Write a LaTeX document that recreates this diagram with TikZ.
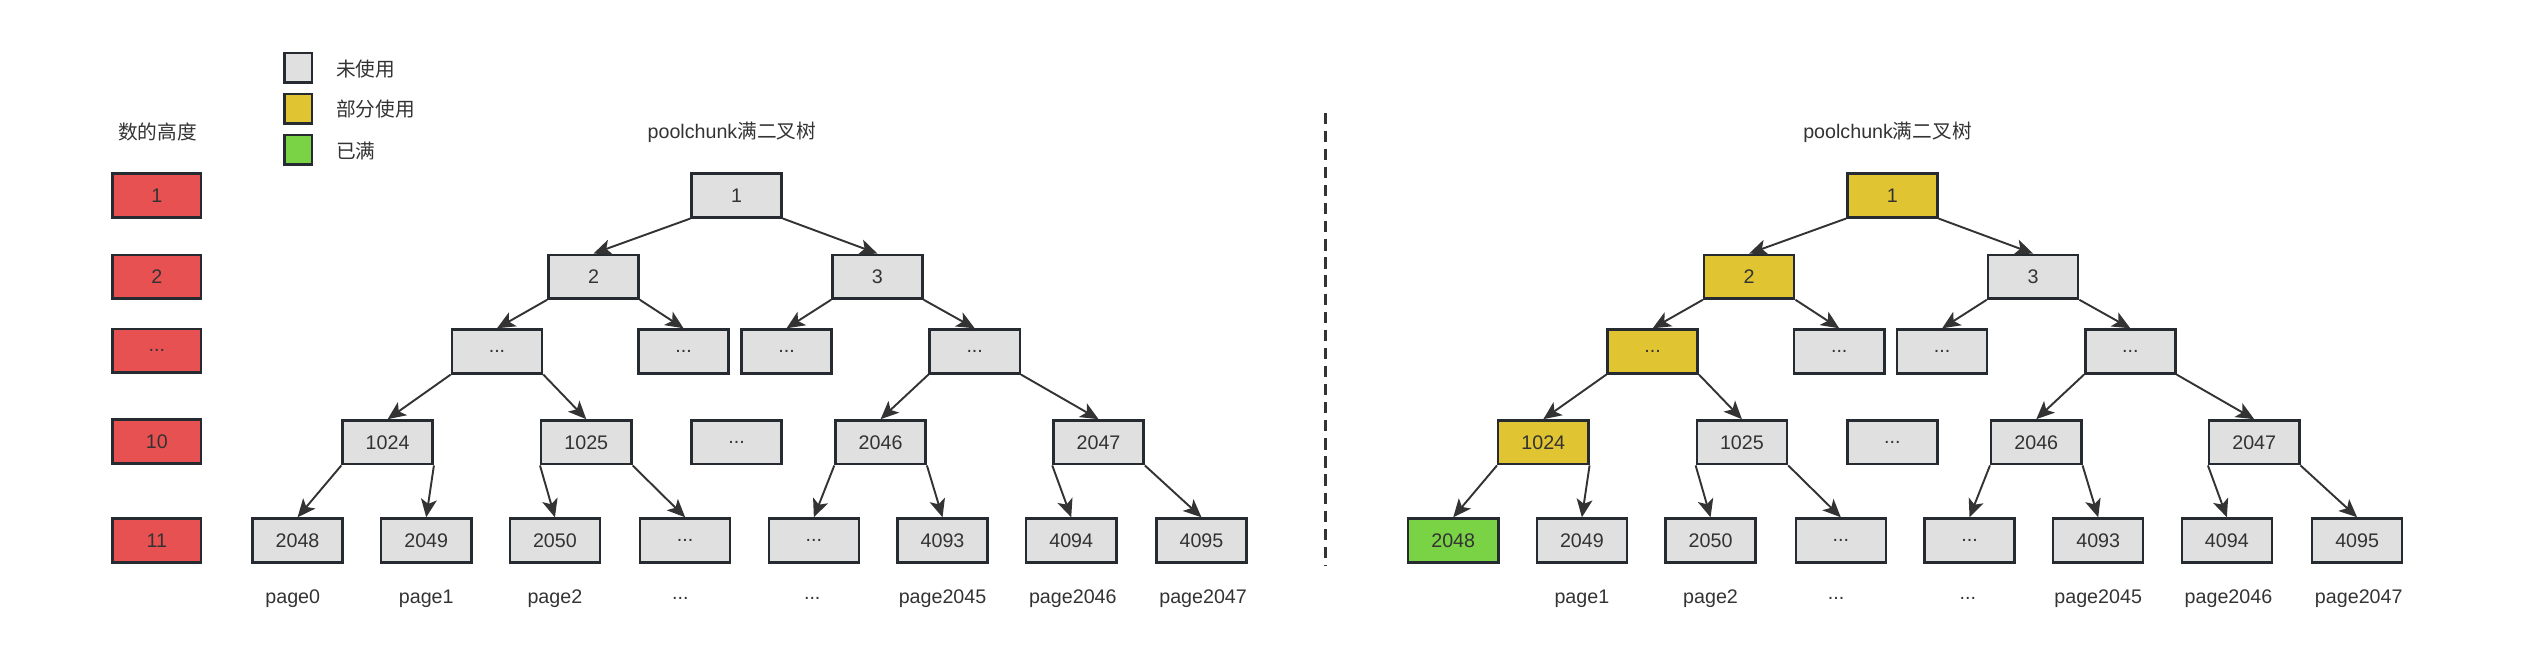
\documentclass[tikz,border=0pt]{standalone}
\usepackage{fontspec}
\setmainfont{Liberation Sans}
\newfontfamily\cjk{Noto Sans CJK SC}
\usetikzlibrary{arrows.meta}
\definecolor{boxgray}{HTML}{E0E0E0}
\definecolor{boxline}{HTML}{262B31}
\definecolor{usedyellow}{HTML}{E0C431}
\definecolor{fullgreen}{HTML}{7AD344}
\definecolor{levelred}{HTML}{E85151}
\definecolor{inkgray}{HTML}{333333}

\begin{document}
\begin{tikzpicture}[x=0.025cm, y=-0.025cm,
  every node/.style={font=\fontsize{8.7}{10}\selectfont, text=inkgray},
  chunk/.style={draw=boxline, line width=1.1pt, fill=boxgray, minimum width=1.4cm, minimum height=0.68cm, inner sep=0pt},
  partchunk/.style={chunk, fill=usedyellow},
  fullchunk/.style={chunk, fill=fullgreen},
  heightbox/.style={chunk, fill=levelred, minimum width=1.375cm},
  keybox/.style={draw=boxline, line width=1.1pt, minimum width=0.43cm, minimum height=0.46cm, inner sep=0pt},
  link/.style={draw=inkgray, line width=0.85pt, -{Stealth[length=8pt,width=7pt,inset=2pt]}}]
			\useasboundingbox (0,0) rectangle (1568,413);

			% legend
			\node[keybox, fill=boxgray] (k1) at (185.5,42) {};
			\node[keybox, fill=usedyellow] (k2) at (185.5,67.5) {};
			\node[keybox, fill=fullgreen] (k3) at (185.5,93) {};
			\node[anchor=west] (t1) at (204,43) {\cjk 未使用};
			\node[anchor=west] (t2) at (204,68) {\cjk 部分使用};
			\node[anchor=west] (t3) at (204,94) {\cjk 已满};

			% heights
			\node (hh) at (98,82) {\cjk 数的高度};
			\node[heightbox] (h1) at (97.5,121.5) {1};
			\node[heightbox] (h2) at (97.5,172) {2};
			\node[heightbox] (h3) at (97.5,218) {...};
			\node[heightbox] (h10) at (97.5,274.5) {10};
			\node[heightbox] (h11) at (97.5,336) {11};

			% left tree
			\node (ltitle) at (455,82) {poolchunk\cjk 满二叉树};
			\node[chunk] (l1) at (458,121.5) {1};
			\node[chunk] (l2) at (369,172) {2};
			\node[chunk] (l3) at (545.5,172) {3};
			\node[chunk] (l4) at (309,218.5) {...};
			\node[chunk] (l5) at (425,218.5) {...};
			\node[chunk] (l6) at (489,218.5) {...};
			\node[chunk] (l7) at (606,218.5) {...};
			\node[chunk] (l1024) at (241,275) {1024};
			\node[chunk] (l1025) at (364.5,275) {1025};
			\node[chunk] (lmid) at (458,275) {...};
			\node[chunk] (l2046) at (547.5,275) {2046};
			\node[chunk] (l2047) at (683,275) {2047};
			\node[chunk] (l2048) at (185,336) {2048};
			\node[chunk] (l2049) at (265,336) {2049};
			\node[chunk] (l2050) at (345,336) {2050};
			\node[chunk] (lx1) at (426,336) {...};
			\node[chunk] (lx2) at (506,336) {...};
			\node[chunk] (l4093) at (586,336) {4093};
			\node[chunk] (l4094) at (666,336) {4094};
			\node[chunk] (l4095) at (747,336) {4095};

			\draw[link] (l1.south west) -- (l2.north);
			\draw[link] (l1.south east) -- (l3.north);
			\draw[link] (l2.south west) -- (l4.north);
			\draw[link] (l2.south east) -- (l5.north);
			\draw[link] (l3.south west) -- (l6.north);
			\draw[link] (l3.south east) -- (l7.north);
			\draw[link] (l4.south west) -- (l1024.north);
			\draw[link] (l4.south east) -- (l1025.north);
			\draw[link] (l7.south west) -- (l2046.north);
			\draw[link] (l7.south east) -- (l2047.north);
			\draw[link] (l1024.south west) -- (l2048.north);
			\draw[link] (l1024.south east) -- (l2049.north);
			\draw[link] (l1025.south west) -- (l2050.north);
			\draw[link] (l1025.south east) -- (lx1.north);
			\draw[link] (l2046.south west) -- (lx2.north);
			\draw[link] (l2046.south east) -- (l4093.north);
			\draw[link] (l2047.south west) -- (l4094.north);
			\draw[link] (l2047.south east) -- (l4095.north);

			\node (lp0) at (182,372) {page0};
			\node (lp1) at (265,372) {page1};
			\node (lp2) at (345,372) {page2};
			\node (lp3) at (423,372) {...};
			\node (lp4) at (505,372) {...};
			\node (lp5) at (586,372) {page2045};
			\node (lp6) at (667,372) {page2046};
			\node (lp7) at (748,372) {page2047};

			% separator
			\coordinate (d1) at (824,70);
			\coordinate (d2) at (824,352);
			\draw[inkgray, line width=1.1pt, dash pattern=on 5pt off 3pt] (d1) -- (d2);

			% right tree
			\node (rtitle) at (1173.5,82) {poolchunk\cjk 满二叉树};
			\node[partchunk] (r1) at (1176.5,121.5) {1};
			\node[partchunk] (r2) at (1087.5,172) {2};
			\node[chunk] (r3) at (1264,172) {3};
			\node[partchunk] (r4) at (1027.5,218.5) {...};
			\node[chunk] (r5) at (1143.5,218.5) {...};
			\node[chunk] (r6) at (1207.5,218.5) {...};
			\node[chunk] (r7) at (1324.5,218.5) {...};
			\node[partchunk] (r1024) at (959.5,275) {1024};
			\node[chunk] (r1025) at (1083,275) {1025};
			\node[chunk] (rmid) at (1176.5,275) {...};
			\node[chunk] (r2046) at (1266,275) {2046};
			\node[chunk] (r2047) at (1401.5,275) {2047};
			\node[fullchunk] (r2048) at (903.5,336) {2048};
			\node[chunk] (r2049) at (983.5,336) {2049};
			\node[chunk] (r2050) at (1063.5,336) {2050};
			\node[chunk] (rx1) at (1144.5,336) {...};
			\node[chunk] (rx2) at (1224.5,336) {...};
			\node[chunk] (r4093) at (1304.5,336) {4093};
			\node[chunk] (r4094) at (1384.5,336) {4094};
			\node[chunk] (r4095) at (1465.5,336) {4095};

			\draw[link] (r1.south west) -- (r2.north);
			\draw[link] (r1.south east) -- (r3.north);
			\draw[link] (r2.south west) -- (r4.north);
			\draw[link] (r2.south east) -- (r5.north);
			\draw[link] (r3.south west) -- (r6.north);
			\draw[link] (r3.south east) -- (r7.north);
			\draw[link] (r4.south west) -- (r1024.north);
			\draw[link] (r4.south east) -- (r1025.north);
			\draw[link] (r7.south west) -- (r2046.north);
			\draw[link] (r7.south east) -- (r2047.north);
			\draw[link] (r1024.south west) -- (r2048.north);
			\draw[link] (r1024.south east) -- (r2049.north);
			\draw[link] (r1025.south west) -- (r2050.north);
			\draw[link] (r1025.south east) -- (rx1.north);
			\draw[link] (r2046.south west) -- (rx2.north);
			\draw[link] (r2046.south east) -- (r4093.north);
			\draw[link] (r2047.south west) -- (r4094.north);
			\draw[link] (r2047.south east) -- (r4095.north);

			\node (rp1) at (983.5,372) {page1};
			\node (rp2) at (1063.5,372) {page2};
			\node (rp3) at (1141.5,372) {...};
			\node (rp4) at (1223.5,372) {...};
			\node (rp5) at (1304.5,372) {page2045};
			\node (rp6) at (1385.5,372) {page2046};
			\node (rp7) at (1466.5,372) {page2047};
\end{tikzpicture}
\end{document}
